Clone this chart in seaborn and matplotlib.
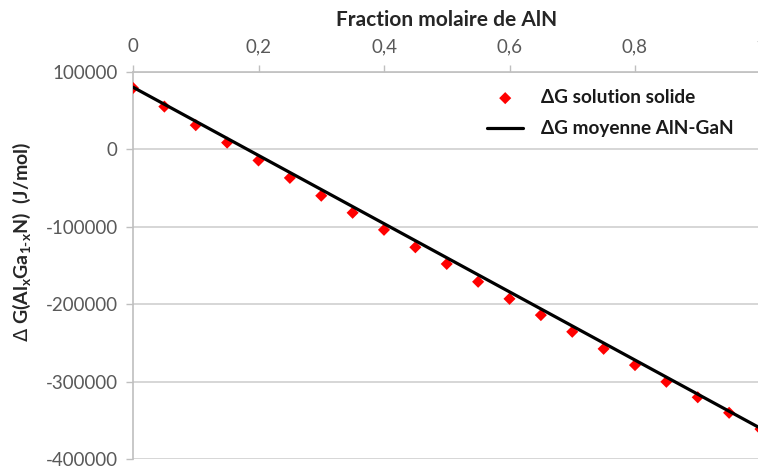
import matplotlib
matplotlib.use("Agg")
import matplotlib.pyplot as plt
import seaborn as sns
import pandas as pd

# data
x_frac = [0, 0.05, 0.1, 0.15, 0.2, 0.25, 0.3, 0.35, 0.4, 0.45, 0.5,
          0.55, 0.6, 0.65, 0.7, 0.75, 0.8, 0.85, 0.9, 0.95, 1.0]
dg_solution = [79000, 55000, 31000, 8500, -14500, -37000, -60000, -82000,
               -104000, -126500, -148000, -171000, -193000, -214000,
               -235500, -257500, -278500, -300000, -320000, -340000, -361000]
x_line = [0, 1]
dg_moyenne = [80000, -360000]
x_ticks = [0, 0.2, 0.4, 0.6, 0.8, 1.0]
x_ticklabels = ["0", "0,2", "0,4", "0,6", "0,8", "1"]
y_ticks = [100000, 0, -100000, -200000, -300000, -400000]
y_ticklabels = ["100000", "0", "-100000", "-200000", "-300000", "-400000"]
label_pts = "\u0394G solution solide"
label_line = "\u0394G moyenne AlN-GaN"

sns.set_theme(style="white")
plt.rcParams['font.family'] = ['Lato', 'DejaVu Sans']
plt.rcParams['mathtext.fontset'] = 'custom'
plt.rcParams['mathtext.rm'] = 'Lato:bold'
plt.rcParams['mathtext.it'] = 'Lato:bold'
plt.rcParams['mathtext.bf'] = 'Lato:bold'
plt.rcParams['mathtext.sf'] = 'DejaVu Sans'

df_pts = pd.DataFrame({"x": x_frac, "y": dg_solution})
df_line = pd.DataFrame({"x": x_line, "y": dg_moyenne})

fig = plt.figure(figsize=(7.58, 4.68), dpi=100)
ax = fig.add_axes([133 / 758, 1 - 459.3 / 468, 627.5 / 758, 387.6 / 468])

sns.scatterplot(data=df_pts, x="x", y="y", ax=ax, marker="D", s=38,
                color="#ff0000", edgecolor="none", label=label_pts, zorder=3)
sns.lineplot(data=df_line, x="x", y="y", ax=ax, color="black", linewidth=2.3,
             label=label_line, zorder=4)

ax.set_xlim(0, 1)
ax.set_ylim(-400000, 100000)
ax.set_xticks(x_ticks)
ax.set_xticklabels(x_ticklabels)
ax.set_yticks(y_ticks)
ax.set_yticklabels(y_ticklabels)

ax.xaxis.tick_top()
ax.xaxis.set_label_position("top")
gray = "#bfbfbf"
ax.tick_params(axis="x", which="both", top=True, bottom=False, length=5,
               width=1, color=gray, pad=7, labelsize=13.5, labelcolor="#595959")
ax.tick_params(axis="y", which="both", left=True, length=5, width=1,
               color=gray, pad=6, labelsize=13.5, labelcolor="#595959")
ax.yaxis.grid(True, color="#d0d0d0", linewidth=1.2)
ax.xaxis.grid(False)
for side in ["right", "bottom"]:
    ax.spines[side].set_visible(False)
ax.spines["left"].set_color(gray)
ax.spines["top"].set_color(gray)
ax.spines["left"].set_linewidth(1.2)
ax.spines["top"].set_linewidth(1.2)

ax.set_xlabel("Fraction molaire de AlN", fontsize=15, fontweight="bold",
              color="#262626", labelpad=9)
ax.set_ylabel("$\\mathsf{\\Delta}$ G(Al$_x$Ga$_{1\\text{-}x}$N)  (J/mol)", fontsize=14,
              fontweight="bold", color="#262626")
ax.yaxis.set_label_coords(-0.16, 0.56)

leg = ax.legend(loc="upper left", bbox_to_anchor=(470 / 758, 1 - 72 / 468),
                bbox_transform=fig.transFigure, frameon=False, fontsize=13.7,
                handlelength=1.9, handletextpad=0.95, labelspacing=0.75,
                borderpad=0.4)
for t in leg.get_texts():
    t.set_fontweight("bold")
    t.set_color("#1a1a1a")

fig.savefig("out.png", dpi=100)
